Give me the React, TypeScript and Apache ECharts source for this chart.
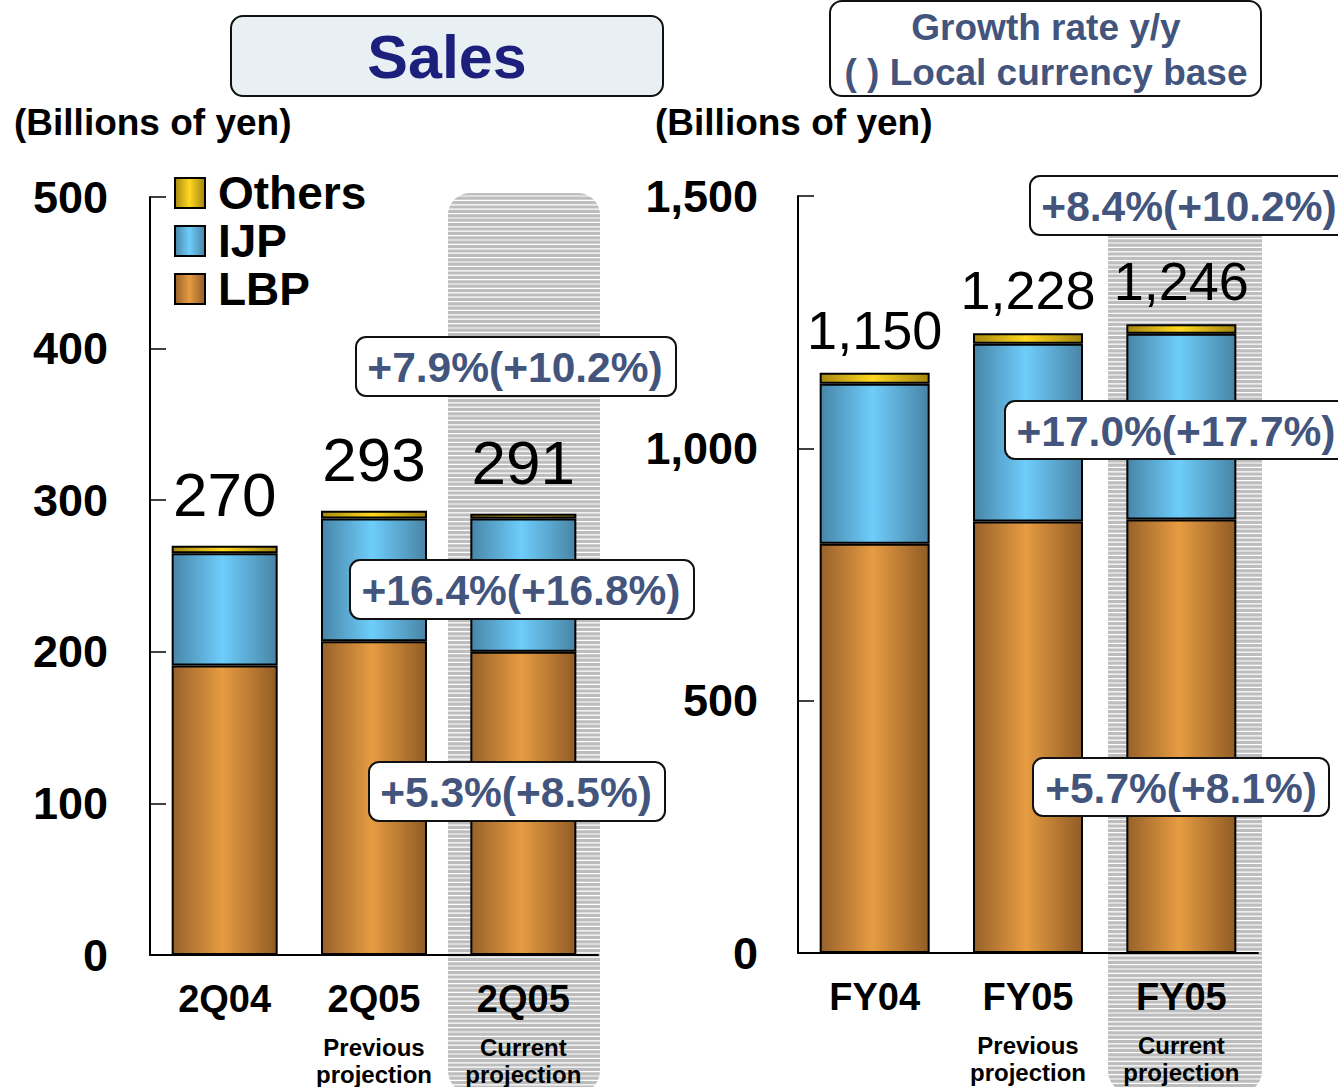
import React, { useEffect, useRef } from "react";
import * as echarts from "echarts";

const FONT = "'Liberation Sans', Arial, Helvetica, sans-serif";

// ---------- data ----------
const leftCategories = ["2Q04", "2Q05", "2Q05"];
const leftNotes = ["", "Previous\nprojection", "Current\nprojection"];
const leftLBP = [191, 207, 200];
const leftIJP = [74, 81, 88];
const leftOthers = [5, 5, 3];
const leftAxis = { min: 0, max: 500, interval: 100 };

const rightCategories = ["FY04", "FY05", "FY05"];
const rightNotes = ["", "Previous\nprojection", "Current\nprojection"];
const rightLBP = [811, 855, 859];
const rightIJP = [317, 352, 368];
const rightOthers = [22, 21, 19];
const rightAxis = { min: 0, max: 1500, interval: 500 };

const seriesNames = ["LBP", "IJP", "Others"];
const legendOrder = ["Others", "IJP", "LBP"];
const unitLabel = "(Billions of yen)";
const titleText = "Sales";
const growthTitle = ["Growth rate y/y", "( ) Local currency base"];
const growthLeft = ["+7.9%(+10.2%)", "+16.4%(+16.8%)", "+5.3%(+8.5%)"];
const growthRight = ["+8.4%(+10.2%)", "+17.0%(+17.7%)", "+5.7%(+8.1%)"];

// ---------- layout (positions / styles only) ----------
const leftBoxes = [
  { x: 356, y: 337, w: 320, h: 59, tx: 515 },
  { x: 350, y: 560, w: 344, h: 59, tx: 521 },
  { x: 369, y: 762, w: 296, h: 59, tx: 516 },
];
const rightBoxes = [
  { x: 1030, y: 176, w: 320, h: 59, tx: 1189 },
  { x: 1005, y: 401, w: 345, h: 58, tx: 1176 },
  { x: 1033, y: 758, w: 296, h: 58, tx: 1181 },
];
const SLATE = "#43557d";

function grad(edge: string, mid: string, edge2: string) {
  return new echarts.graphic.LinearGradient(0, 0, 1, 0, [
    { offset: 0, color: edge },
    { offset: 0.48, color: mid },
    { offset: 1, color: edge2 },
  ]);
}
const colors: Record<string, any> = {
  LBP: grad("#98612a", "#e69c42", "#915c25"),
  IJP: grad("#4885a8", "#6ecdfb", "#4884a6"),
  Others: grad("#a6880f", "#ffd820", "#a3850f"),
};

function stripes(x: number, y: number, w: number, h: number) {
  const els: any[] = [
    {
      type: "rect",
      z: -20,
      shape: { x, y, width: w, height: h, r: 22 },
      style: { fill: "#bdbdbd" },
      silent: true,
    },
  ];
  for (let yy = y + 3; yy < y + h; yy += 4.4) {
    els.push({
      type: "line",
      z: -19,
      silent: true,
      shape: { x1: x, y1: yy, x2: x + w, y2: yy },
      style: { stroke: "#ffffff", lineWidth: 1.2 },
    });
  }
  return els;
}

function growthBox(b: any, text: string) {
  return [
    {
      type: "rect",
      z: 50,
      shape: { x: b.x, y: b.y, width: b.w, height: b.h, r: 10 },
      style: { fill: "#ffffff", stroke: "#111111", lineWidth: 2 },
    },
    {
      type: "text",
      z: 51,
      x: b.tx,
      y: b.y + b.h / 2 + 1,
      style: {
        text,
        fill: SLATE,
        font: `bold 42.5px ${FONT}`,
        align: "center",
        verticalAlign: "middle",
      },
    },
  ];
}

function makeSeries(
  idx: number,
  lbp: number[],
  ijp: number[],
  oth: number[],
  barWidth: number,
  labelSize: number,
  labelDist: number
) {
  const vals: Record<string, number[]> = { LBP: lbp, IJP: ijp, Others: oth };
  return seriesNames.map((name) => ({
    type: "bar",
    name,
    xAxisIndex: idx,
    yAxisIndex: idx,
    stack: "s" + idx,
    barWidth,
    data: vals[name],
    itemStyle: { color: colors[name], borderColor: "#000", borderWidth: 2 },
    label:
      name === "Others"
        ? {
            show: true,
            position: "top",
            distance: labelDist,
            fontFamily: FONT,
            fontSize: labelSize,
            color: "#000",
            formatter: (p: any) =>
              (lbp[p.dataIndex] + ijp[p.dataIndex] + oth[p.dataIndex]).toLocaleString("en-US"),
          }
        : { show: false },
  }));
}

function xAxisFor(idx: number, cats: string[], notes: string[]) {
  return {
    type: "category",
    gridIndex: idx,
    data: cats.map((c, i) => c + "#" + i),
    axisLine: { lineStyle: { color: "#000", width: 2 } },
    axisTick: { inside: true, length: 12, lineStyle: { color: "#000", width: 1.5 } },
    axisLabel: {
      interval: 0,
      margin: 22,
      formatter: (_v: string, i: number) => {
        const n = notes[i];
        if (!n) return `{a|${cats[i]}}`;
        const [l1, l2] = n.split("\n");
        return `{a|${cats[i]}}\n{g| }\n{b|${l1}}\n{b|${l2}}`;
      },
      rich: {
        a: { fontFamily: FONT, fontWeight: "bold", fontSize: 38, lineHeight: 44, color: "#000" },
        g: { fontSize: 2, lineHeight: 13 },
        b: { fontFamily: FONT, fontWeight: "bold", fontSize: 24, lineHeight: 27, color: "#000" },
      },
    },
  };
}

function yAxisFor(idx: number, ax: any, margin: number) {
  return {
    type: "value",
    gridIndex: idx,
    min: ax.min,
    max: ax.max,
    interval: ax.interval,
    splitLine: { show: false },
    axisLine: { show: true, lineStyle: { color: "#000", width: 2 } },
    axisTick: { show: true, inside: true, length: 16, lineStyle: { color: "#000", width: 1.5 } },
    axisLabel: {
      margin,
      fontFamily: FONT,
      fontWeight: "bold",
      fontSize: 45,
      color: "#000",
      formatter: (v: number) => v.toLocaleString("en-US"),
    },
  };
}

export default function App() {
  const ref = useRef<HTMLDivElement>(null);
  useEffect(() => {
    if (!ref.current) return;
    const chart = echarts.init(ref.current, undefined, { renderer: "svg" });
    const graphic: any[] = [
      ...stripes(448, 193, 152, 900),
      ...stripes(1108, 196, 154, 897),
      {
        type: "rect",
        z: 40,
        shape: { x: 231, y: 16, width: 432, height: 80, r: 12 },
        style: { fill: "#e8f0f4", stroke: "#111", lineWidth: 2 },
      },
      {
        type: "text",
        z: 41,
        x: 447,
        y: 57,
        style: {
          text: titleText,
          fill: "#1d1f7c",
          font: `bold 61px ${FONT}`,
          align: "center",
          verticalAlign: "middle",
        },
      },
      {
        type: "rect",
        z: 40,
        shape: { x: 830, y: 1, width: 431, height: 95, r: 12 },
        style: { fill: "#ffffff", stroke: "#111", lineWidth: 2 },
      },
      {
        type: "text",
        z: 41,
        x: 1046,
        y: 27,
        style: { text: growthTitle[0], fill: SLATE, font: `bold 37px ${FONT}`, align: "center", verticalAlign: "middle" },
      },
      {
        type: "text",
        z: 41,
        x: 1046,
        y: 72,
        style: { text: growthTitle[1], fill: SLATE, font: `bold 37px ${FONT}`, align: "center", verticalAlign: "middle" },
      },
      {
        type: "text",
        z: 41,
        x: 14,
        y: 122,
        style: { text: unitLabel, fill: "#000", font: `bold 37px ${FONT}`, align: "left", verticalAlign: "middle" },
      },
      {
        type: "text",
        z: 41,
        x: 655,
        y: 122,
        style: { text: unitLabel, fill: "#000", font: `bold 37px ${FONT}`, align: "left", verticalAlign: "middle" },
      },
      ...leftBoxes.flatMap((b, i) => growthBox(b, growthLeft[i])),
      ...rightBoxes.flatMap((b, i) => growthBox(b, growthRight[i])),
    ];

    chart.setOption({
      animation: false,
      backgroundColor: "#ffffff",
      grid: [
        { left: 150, top: 197, width: 448, height: 758 },
        { left: 798, top: 196, width: 460, height: 757 },
      ],
      legend: {
        data: legendOrder,
        orient: "vertical",
        left: 169,
        top: 165,
        itemWidth: 30,
        itemHeight: 30,
        itemGap: 2,
        selectedMode: false,
        icon: "rect",
        textStyle: {
          fontFamily: FONT,
          fontWeight: "bold",
          fontSize: 46,
          color: "#000",
          padding: [0, 0, 0, 8],
        },
      },
      xAxis: [xAxisFor(0, leftCategories, leftNotes), xAxisFor(1, rightCategories, rightNotes)],
      yAxis: [yAxisFor(0, leftAxis, 42), yAxisFor(1, rightAxis, 40)],
      series: [
        ...makeSeries(0, leftLBP, leftIJP, leftOthers, 106, 62, 20),
        ...makeSeries(1, rightLBP, rightIJP, rightOthers, 110, 54, 16),
      ],
      graphic,
    });
    return () => chart.dispose();
  }, []);
  return (
    <div
      ref={ref}
      style={{ position: "absolute", left: 0, top: 0, width: 1338, height: 1087 }}
    />
  );
}
